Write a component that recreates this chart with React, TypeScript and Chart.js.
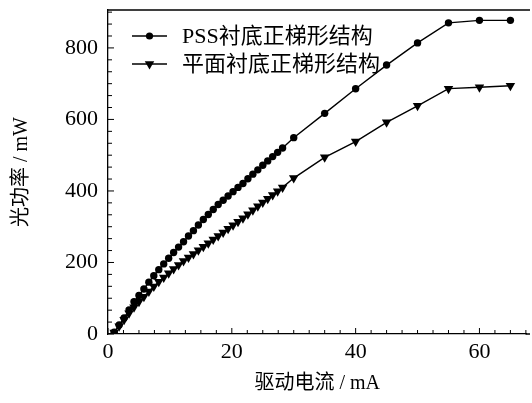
import React, { useEffect, useRef } from "react";
import { Chart, registerables } from "chart.js";

Chart.register(...registerables);

// Drive current (mA)
const current = [
  1.0, 1.8, 2.6, 3.4, 4.2, 5.0, 5.8, 6.6, 7.4, 8.2, 9.0, 9.8, 10.6, 11.4, 12.2, 13.0, 13.8, 14.6,
  15.4, 16.2, 17.0, 17.8, 18.6, 19.4, 20.2, 21.0, 21.8, 22.6, 23.4, 24.2, 25.0, 25.8, 26.6, 27.4,
  28.2, 30, 35, 40, 45, 50, 55, 60, 65,
];
// Optical power (mW), PSS substrate trapezoid structure
const pssPower = [
  5, 25, 45, 67, 90, 108, 126, 145, 163, 180, 196, 212, 228, 243, 258, 274, 289, 305,
  320, 334, 348, 362, 374, 386, 398, 410, 421, 434, 447, 459, 472, 484, 496, 508,
  520, 549, 617, 686, 752, 814, 870, 877, 877,
];
// Optical power (mW), planar substrate trapezoid structure
const flatPower = [
  4, 22, 40, 58, 75, 90, 104, 119, 133, 146, 158, 170, 182, 193, 204, 214, 224, 234,
  244, 254, 264, 274, 284, 294, 304, 314, 324, 335, 346, 357, 368, 378, 389, 399,
  410, 436, 494, 538, 592, 638, 686, 690, 694,
];

const seriesNames = ["PSS衬底正梯形结构", "平面衬底正梯形结构"];
const xTicks = [0, 20, 40, 60];
const yTicks = [0, 200, 400, 600, 800];
const xTitle = "驱动电流 / mA";
const yTitle = "光功率 / mW";

const FONT = '"Liberation Serif", "Noto Sans CJK SC", serif';

function drawMarker(ctx: CanvasRenderingContext2D, style: string, r: number, rot: number, x: number, y: number) {
  ctx.beginPath();
  if (style === "circle") {
    ctx.arc(x, y, r, 0, Math.PI * 2);
  } else {
    const a = (rot * Math.PI) / 180;
    for (let k = 0; k < 3; k++) {
      const ang = a - Math.PI / 2 + (k * 2 * Math.PI) / 3;
      const px = x + Math.cos(ang) * r;
      const py = y + Math.sin(ang) * r;
      if (k === 0) ctx.moveTo(px, py);
      else ctx.lineTo(px, py);
    }
    ctx.closePath();
  }
  ctx.fill();
}

export default function App() {
  const ref = useRef<HTMLCanvasElement | null>(null);

  useEffect(() => {
    if (!ref.current) return;

    const framePlugin = {
      id: "frame",
      afterDraw(chart: any) {
        const { ctx, chartArea } = chart;
        const xs = chart.scales.x;
        const ys = chart.scales.y;
        ctx.save();
        ctx.strokeStyle = "#000";
        ctx.lineWidth = 1.3;
        ctx.beginPath();
        ctx.moveTo(chartArea.left, chartArea.top);
        ctx.lineTo(chart.width - 2, chartArea.top);
        ctx.moveTo(chartArea.right - 1, chartArea.bottom);
        ctx.lineTo(chart.width - 2, chartArea.bottom);
        ctx.stroke();
        ctx.lineWidth = 1;
        for (let v = 0; v <= xs.max + 1e-6; v += 2.5) {
          const px = xs.getPixelForValue(v);
          const len = v % 20 === 0 ? 6 : 4;
          ctx.beginPath();
          ctx.moveTo(px, chartArea.bottom);
          ctx.lineTo(px, chartArea.bottom - len);
          ctx.stroke();
        }
        for (let i = 0; i * (100 / 3) <= ys.max; i++) {
          const v = i * (100 / 3);
          const py = ys.getPixelForValue(v);
          const len = i % 6 === 0 ? 6 : 4;
          ctx.beginPath();
          ctx.moveTo(chartArea.left, py);
          ctx.lineTo(chartArea.left + len, py);
          ctx.stroke();
        }
        const items = [
          { y: 36, style: "circle", r: 3.6, rot: 0 },
          { y: 64, style: "triangle", r: 5.5, rot: 180 },
        ];
        items.forEach((it, i) => {
          ctx.strokeStyle = "#000";
          ctx.lineWidth = 1.4;
          ctx.beginPath();
          ctx.moveTo(132, it.y);
          ctx.lineTo(167, it.y);
          ctx.stroke();
          ctx.fillStyle = "#000";
          drawMarker(ctx, it.style, it.r, it.rot, 149.5, it.y);
          ctx.font = `22px ${FONT}`;
          ctx.textAlign = "left";
          ctx.textBaseline = "middle";
          ctx.fillText(seriesNames[i], 182, it.y + 1);
        });
        ctx.restore();
      },
    };

    const chart = new Chart(ref.current, {
      type: "line",
      data: {
        datasets: [
          {
            label: seriesNames[0],
            data: current.map((c, i) => ({ x: c, y: pssPower[i] })),
            borderColor: "#000",
            backgroundColor: "#000",
            borderWidth: 1.4,
            pointStyle: "circle",
            pointRadius: 3.7,
            pointBorderWidth: 0,
            tension: 0,
          },
          {
            label: seriesNames[1],
            data: current.map((c, i) => ({ x: c, y: flatPower[i] })),
            borderColor: "#000",
            backgroundColor: "#000",
            borderWidth: 1.4,
            pointStyle: "triangle",
            pointRotation: 180,
            pointRadius: 5.5,
            pointBorderWidth: 0,
            tension: 0,
          },
        ],
      },
      options: {
        animation: false,
        responsive: false,
        maintainAspectRatio: false,
        layout: { padding: { left: 0, right: 2, top: 10, bottom: 0 } },
        plugins: { legend: { display: false }, tooltip: { enabled: false } },
        scales: {
          x: {
            type: "linear",
            min: 0,
            max: 67.6,
            grid: { display: false, drawTicks: false },
            border: { display: true, color: "#000", width: 1.3 },
            afterBuildTicks: (s: any) => {
              s.ticks = xTicks.map((v) => ({ value: v }));
            },
            afterFit: (s: any) => {
              s.height = 69;
              s.paddingLeft = 0;
              s.paddingRight = 0;
            },
            ticks: {
              color: "#000",
              font: { family: FONT, size: 22 },
              padding: 5,
              maxRotation: 0,
            },
            title: {
              display: true,
              text: xTitle,
              color: "#000",
              font: { family: FONT, size: 20 },
              padding: { top: 0, bottom: 7 },
            },
          },
          y: {
            type: "linear",
            min: 0,
            max: 906,
            grid: { display: false, drawTicks: false },
            border: { display: true, color: "#000", width: 1.3 },
            afterBuildTicks: (s: any) => {
              s.ticks = yTicks.map((v) => ({ value: v }));
            },
            afterFit: (s: any) => {
              s.width = 108;
              s.paddingTop = 0;
              s.paddingBottom = 0;
            },
            ticks: {
              color: "#000",
              font: { family: FONT, size: 22 },
              padding: 10,
            },
            title: {
              display: true,
              text: yTitle,
              color: "#000",
              font: { family: FONT, size: 20 },
              padding: { top: 10, bottom: 0 },
            },
          },
        },
      },
      plugins: [framePlugin],
    });
    return () => chart.destroy();
  }, []);

  return (
    <div style={{ position: "fixed", left: 0, top: 0, width: 532, height: 403, background: "#fff" }}>
      <canvas ref={ref} width={532} height={403} style={{ width: 532, height: 403, display: "block" }} />
    </div>
  );
}
